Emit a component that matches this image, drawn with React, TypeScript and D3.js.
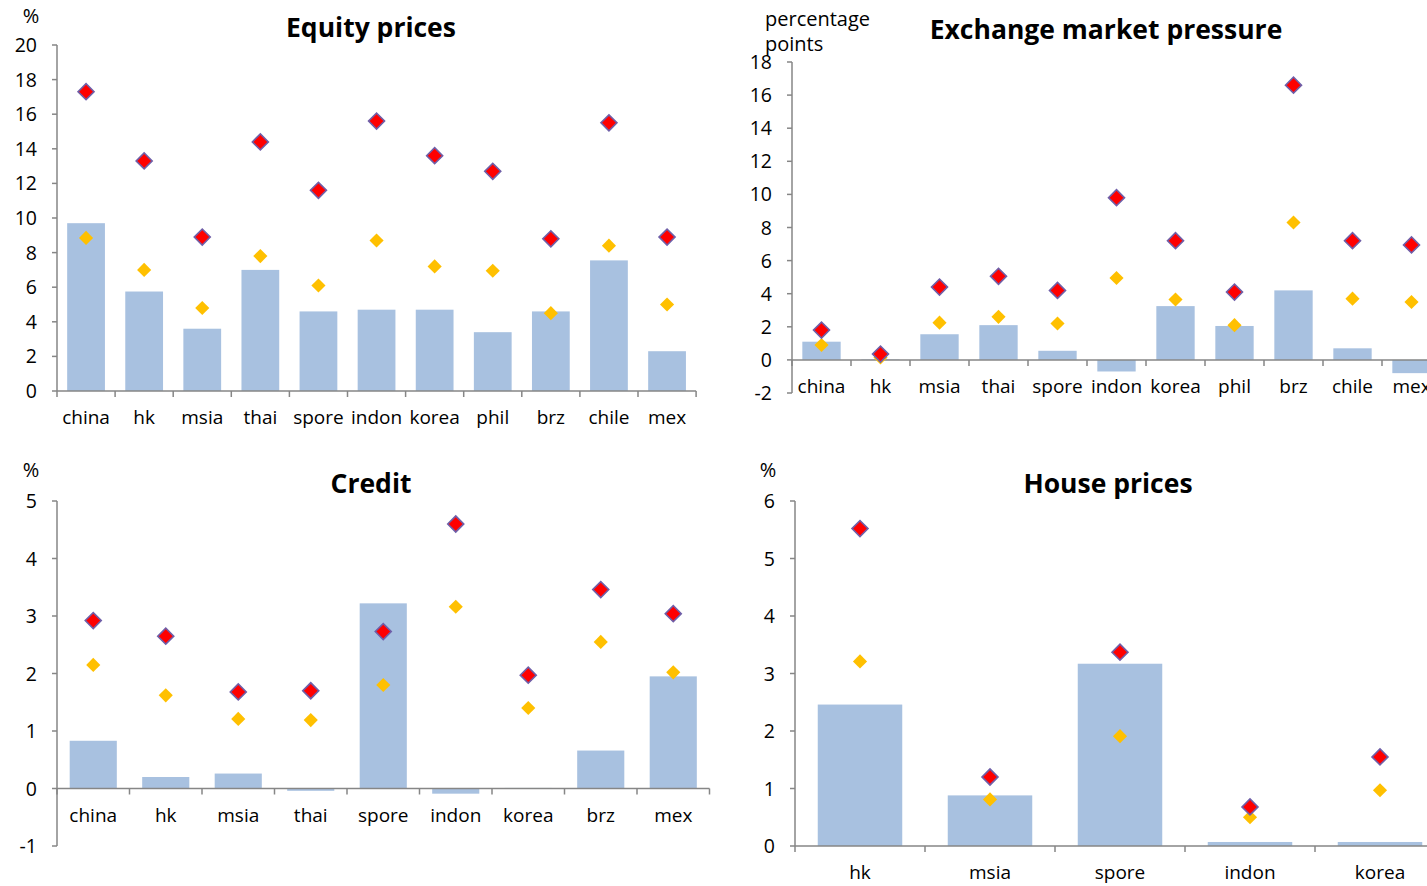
import React from "react";
import * as d3 from "d3";

// country labels and values
const EQ_CATS = ["china", "hk", "msia", "thai", "spore", "indon", "korea", "phil", "brz", "chile", "mex"];
const EQ_BARS = [9.7, 5.75, 3.6, 7.0, 4.6, 4.7, 4.7, 3.4, 4.6, 7.55, 2.3];
const EQ_RED = [17.3, 13.3, 8.9, 14.4, 11.6, 15.6, 13.6, 12.7, 8.8, 15.5, 8.9];
const EQ_YELLOW = [8.85, 7.0, 4.8, 7.8, 6.1, 8.7, 7.2, 6.95, 4.5, 8.4, 5.0];
const EQ_TICKS = d3.range(0, 21, 2);

const EMP_CATS = ["china", "hk", "msia", "thai", "spore", "indon", "korea", "phil", "brz", "chile", "mex"];
const EMP_BARS = [1.1, 0.03, 1.55, 2.1, 0.55, -0.7, 3.25, 2.05, 4.2, 0.7, -0.8];
const EMP_RED = [1.8, 0.35, 4.4, 5.05, 4.2, 9.8, 7.2, 4.1, 16.6, 7.2, 6.95];
const EMP_YELLOW = [0.9, 0.15, 2.25, 2.6, 2.2, 4.95, 3.65, 2.1, 8.3, 3.7, 3.5];
const EMP_TICKS = d3.range(-2, 19, 2);

const CR_CATS = ["china", "hk", "msia", "thai", "spore", "indon", "korea", "brz", "mex"];
const CR_BARS = [0.83, 0.2, 0.26, -0.04, 3.22, -0.09, 0.01, 0.66, 1.95];
const CR_RED = [2.92, 2.65, 1.68, 1.7, 2.73, 4.6, 1.97, 3.46, 3.04];
const CR_YELLOW = [2.15, 1.62, 1.21, 1.19, 1.8, 3.16, 1.4, 2.55, 2.02];
const CR_TICKS = d3.range(-1, 6, 1);

const HP_CATS = ["hk", "msia", "spore", "indon", "korea"];
const HP_BARS = [2.46, 0.88, 3.17, 0.07, 0.07];
const HP_RED = [5.52, 1.2, 3.37, 0.68, 1.55];
const HP_YELLOW = [3.21, 0.81, 1.91, 0.5, 0.97];
const HP_TICKS = d3.range(0, 7, 1);

const BAR_COLOR = "#a8c1e0";
const RED = "#ff0000";
const RED_EDGE = "#6f5fa8";
const YELLOW = "#ffc000";
const AXIS = "#868686";
const FONT = "'Open Sans', sans-serif";

type PanelProps = {
  title: string;
  titleX: number;
  titleY: number;
  unit: string[];
  unitX: number;
  unitY: number;
  unitAnchor: "start" | "middle";
  cats: string[];
  bars: number[];
  red: number[];
  yellow: number[];
  ticks: number[];
  x0: number;
  step: number;
  yTop: number;
  yBottom: number;
};

function Panel(p: PanelProps) {
  const n = p.cats.length;
  const x = d3
    .scaleBand()
    .domain(p.cats)
    .range([p.x0, p.x0 + n * p.step])
    .paddingInner(0.35)
    .paddingOuter(0.175);
  const y = d3
    .scaleLinear()
    .domain([p.ticks[0], p.ticks[p.ticks.length - 1]])
    .range([p.yBottom, p.yTop]);
  const y0 = y(0);
  const diamond = d3.symbol(d3.symbolSquare, 128)();
  const smallDiamond = d3.symbol(d3.symbolSquare, 100)();
  const cx = (c: string) => (x(c) as number) + x.bandwidth() / 2;
  const edges = d3.range(n + 1).map((i) => p.x0 + i * x.step());

  return (
    <g>
      <text x={p.titleX} y={p.titleY} textAnchor="middle" fontFamily={FONT} fontWeight="bold" fontSize={26.5} fill="#000">
        {p.title}
      </text>
      {p.unit.map((u, i) => (
        <text key={u} x={p.unitX} y={p.unitY + i * 25} textAnchor={p.unitAnchor} fontFamily={FONT} fontSize={20} fill="#000">
          {u}
        </text>
      ))}

      {/* bars */}
      {p.bars.map((v, i) => (
        <rect
          key={"b" + i}
          x={x(p.cats[i])}
          y={Math.min(y(v), y0)}
          width={x.bandwidth()}
          height={Math.abs(y(v) - y0)}
          fill={BAR_COLOR}
        />
      ))}

      {/* y axis */}
      <line x1={p.x0} x2={p.x0} y1={p.yTop} y2={p.yBottom} stroke={AXIS} strokeWidth={1.5} />
      {p.ticks.map((t) => (
        <g key={"t" + t}>
          <line x1={p.x0 - 5} x2={p.x0} y1={y(t)} y2={y(t)} stroke={AXIS} strokeWidth={1.5} />
          <text x={p.x0 - 20} y={y(t)} dy="0.36em" textAnchor="end" fontFamily={FONT} fontSize={19.5} fill="#000">
            {t}
          </text>
        </g>
      ))}

      {/* x axis */}
      <line x1={p.x0} x2={edges[n]} y1={y0} y2={y0} stroke={AXIS} strokeWidth={1.5} />
      {edges.map((e, i) => (
        <line key={"e" + i} x1={e} x2={e} y1={y0} y2={y0 + 6} stroke={AXIS} strokeWidth={1.5} />
      ))}
      {p.cats.map((c) => (
        <text key={c} x={cx(c)} y={y0 + 33} textAnchor="middle" fontFamily={FONT} fontSize={19} fill="#000">
          {c}
        </text>
      ))}

      {/* markers: yellow under red */}
      {p.yellow.map((v, i) => (
        <path key={"y" + i} d={smallDiamond} transform={`translate(${cx(p.cats[i])},${y(v)}) rotate(45)`} fill={YELLOW} />
      ))}
      {p.red.map((v, i) => (
        <path
          key={"r" + i}
          d={diamond}
          transform={`translate(${cx(p.cats[i])},${y(v)}) rotate(45)`}
          fill={RED}
          stroke={RED_EDGE}
          strokeWidth={1.6}
        />
      ))}
    </g>
  );
}

export default function App() {
  return (
    <div style={{ position: "absolute", left: 0, top: 0 }}>
      <svg width={1427} height={886} style={{ display: "block", background: "#fff" }}>
        <Panel
          title="Equity prices"
          titleX={371}
          titleY={37}
          unit={["%"]}
          unitX={31}
          unitY={23}
          unitAnchor="middle"
          cats={EQ_CATS}
          bars={EQ_BARS}
          red={EQ_RED}
          yellow={EQ_YELLOW}
          ticks={EQ_TICKS}
          x0={57}
          step={58.1}
          yTop={45}
          yBottom={391}
        />
        <Panel
          title="Exchange market pressure"
          titleX={1106}
          titleY={39}
          unit={["percentage", "points"]}
          unitX={765}
          unitY={26}
          unitAnchor="start"
          cats={EMP_CATS}
          bars={EMP_BARS}
          red={EMP_RED}
          yellow={EMP_YELLOW}
          ticks={EMP_TICKS}
          x0={792}
          step={59}
          yTop={62}
          yBottom={393}
        />
        <Panel
          title="Credit"
          titleX={371}
          titleY={493}
          unit={["%"]}
          unitX={31}
          unitY={477}
          unitAnchor="middle"
          cats={CR_CATS}
          bars={CR_BARS}
          red={CR_RED}
          yellow={CR_YELLOW}
          ticks={CR_TICKS}
          x0={57}
          step={72.5}
          yTop={501}
          yBottom={846}
        />
        <Panel
          title="House prices"
          titleX={1108}
          titleY={493}
          unit={["%"]}
          unitX={768}
          unitY={477}
          unitAnchor="middle"
          cats={HP_CATS}
          bars={HP_BARS}
          red={HP_RED}
          yellow={HP_YELLOW}
          ticks={HP_TICKS}
          x0={795}
          step={130}
          yTop={501}
          yBottom={846}
        />
      </svg>
    </div>
  );
}
